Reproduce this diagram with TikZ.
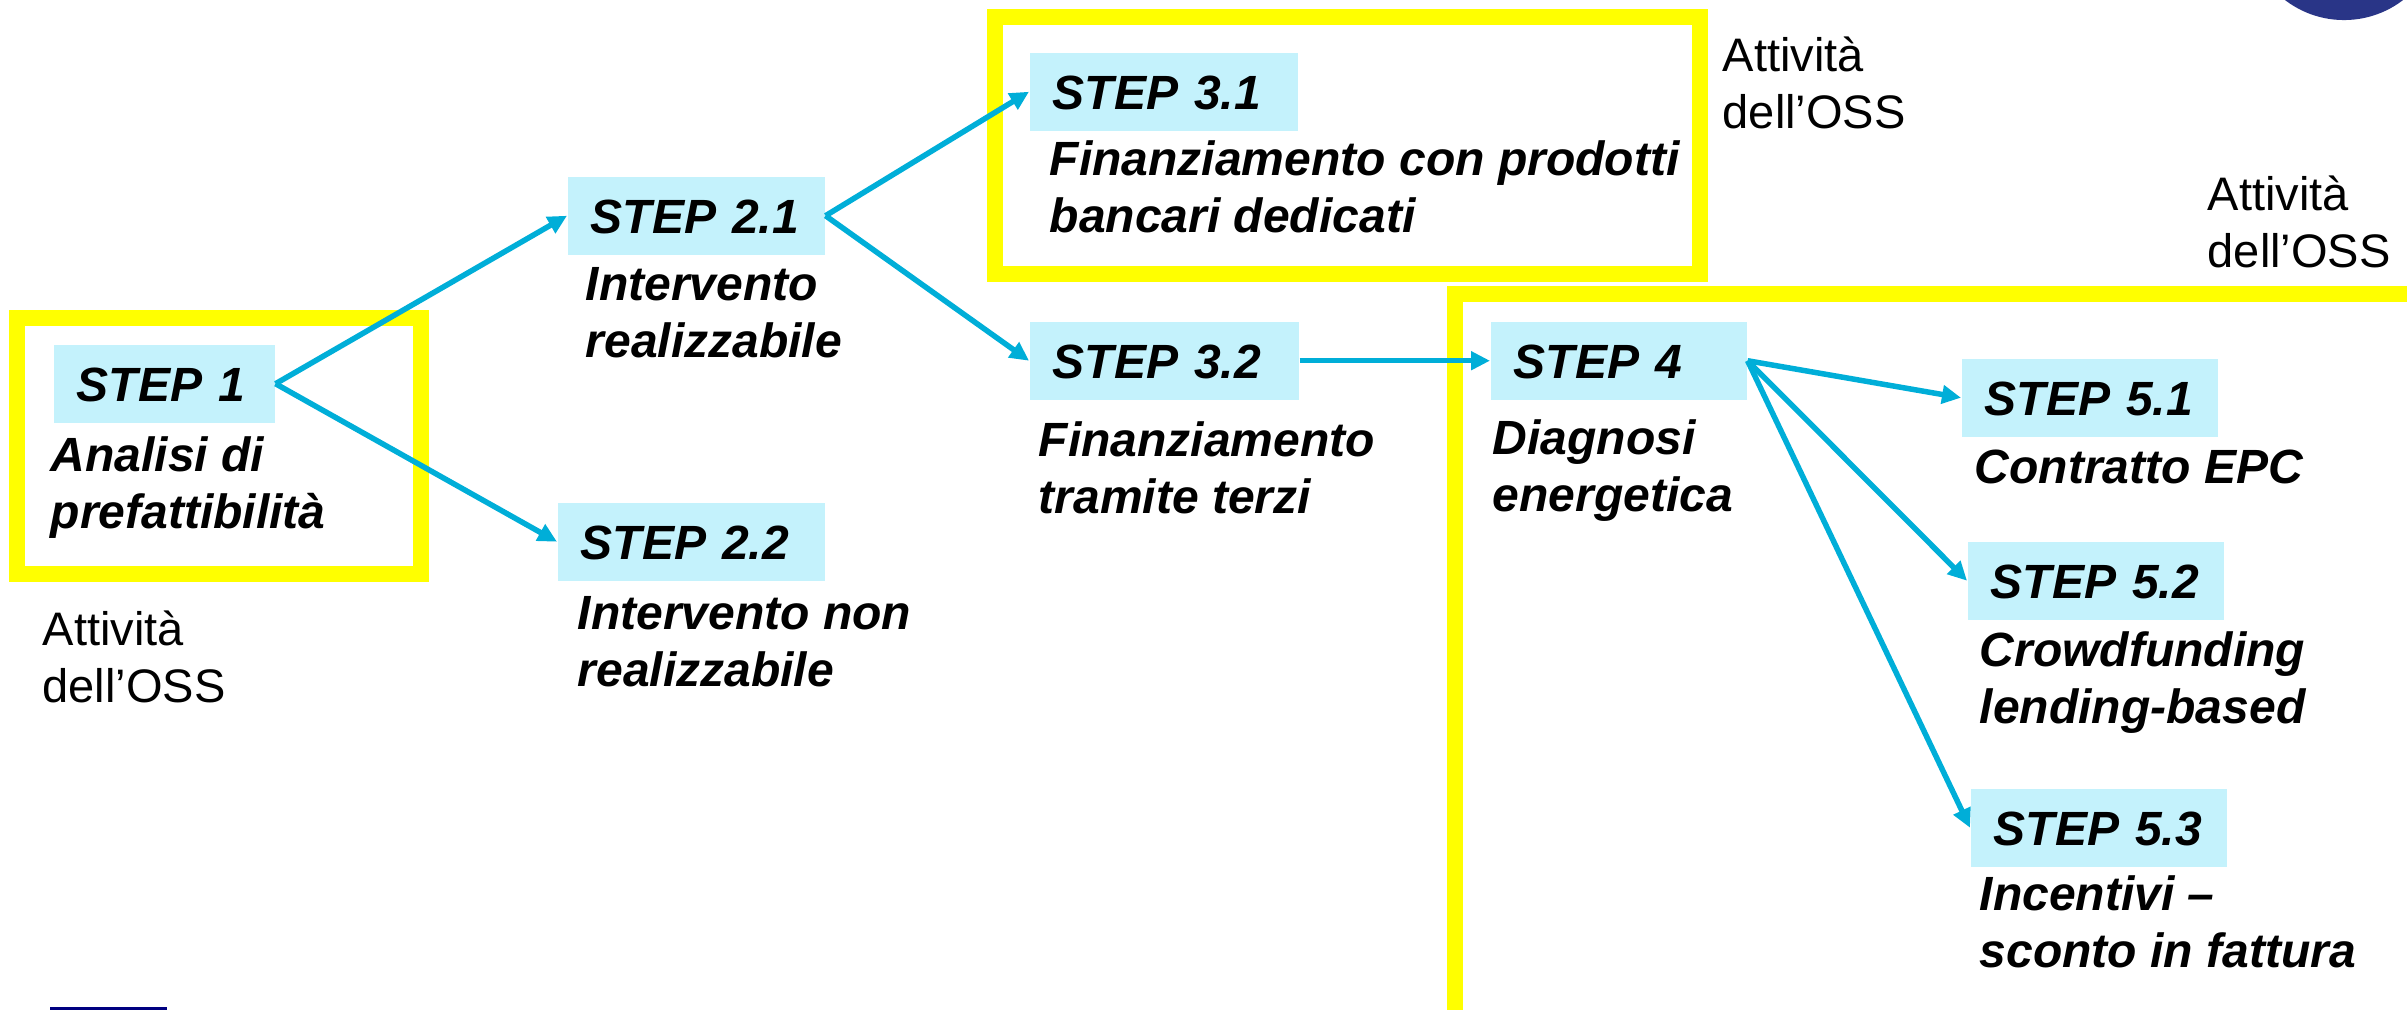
\documentclass[tikz,border=0pt]{standalone}
\usepackage{fontspec}
\setmainfont{Liberation Sans}
\usetikzlibrary{arrows.meta}
\definecolor{stepfill}{HTML}{C4F2FC}
\definecolor{arrcol}{HTML}{00AED8}
\definecolor{hiyellow}{HTML}{FFFF00}
\definecolor{navyc}{HTML}{293587}
\definecolor{darknavy}{HTML}{000080}
\begin{document}
\begin{tikzpicture}[x=0.01cm,y=-0.01cm,
 stepbox/.style={fill=stepfill, anchor=north west, inner xsep=0.23cm, inner ysep=0pt, minimum height=0.78cm, text width=#1, align=left, text height=0.35cm, text depth=0pt, font=\bfseries\itshape\fontsize{13.66pt}{16.2pt}\selectfont},
 desc/.style={anchor=base west, inner sep=0pt, align=left, font=\bfseries\itshape\fontsize{13.66pt}{16.2pt}\selectfont},
 note/.style={anchor=base west, inner sep=0pt, align=left, font=\fontsize{13.37pt}{15.93pt}\selectfont},
 frame/.style={draw=hiyellow, line width=0.16cm},
 arr/.style={draw=arrcol, line width=0.055cm, -{Triangle[length=0.19cm,width=0.18cm]}}
]
\useasboundingbox (0,0) rectangle (2407,1009);
\clip (0,0) rectangle (2407,1009);

% decorations
\fill[navyc] (2344,-77) circle[radius=0.97cm];
\fill[darknavy] (50,1007) rectangle (167,1012);

% yellow frames
\draw[frame] (17,318) rectangle (421,574);
\draw[frame] (995,17) rectangle (1700,274);
\draw[frame] (1455,293.5) rectangle (2440,1020);

% step boxes
\node[stepbox=1.75cm] (s1) at (53,344) {STEP 1};
\node[stepbox=2.11cm] (s21) at (567,176) {STEP 2.1};
\node[stepbox=2.21cm] (s22) at (557,502) {STEP 2.2};
\node[stepbox=2.22cm] (s31) at (1029,52) {STEP 3.1};
\node[stepbox=2.23cm] (s32) at (1029,321) {STEP 3.2};
\node[stepbox=2.10cm] (s4) at (1490,321) {STEP 4};
\node[stepbox=2.10cm] (s51) at (1961,358) {STEP 5.1};
\node[stepbox=2.10cm] (s52) at (1967,541) {STEP 5.2};
\node[stepbox=2.10cm] (s53) at (1970,788) {STEP 5.3};

% descriptions (anchored at the baseline of the last line)
\node[desc] (d1) at (50,528) {Analisi di\\prefattibilità};
\node[desc] (d21) at (585,357) {Intervento\\realizzabile};
\node[desc] (d22) at (577,686) {Intervento non\\realizzabile};
\node[desc] (d31) at (1049,232) {Finanziamento con prodotti\\bancari dedicati};
\node[desc] (d32) at (1038,513) {Finanziamento\\tramite terzi};
\node[desc] (d4) at (1492,511) {Diagnosi\\energetica};
\node[desc] (d51) at (1974,483) {Contratto EPC};
\node[desc] (d52) at (1979,723) {Crowdfunding\\lending-based};
\node[desc] (d53) at (1979,967) {Incentivi –\\sconto in fattura};

% notes
\node[note] (n1) at (42,702) {Attività\\dell’OSS};
\node[note] (n31) at (1722,128) {Attività\\dell’OSS};
\node[note] (n4) at (2207,267) {Attività\\dell’OSS};

% connectors
\draw[arr] (s1.east) -- (s21.west);
\draw[arr] (s1.east) -- (s22.west);
\draw[arr] (s21.east) -- (s31.west);
\draw[arr] (s21.east) -- (s32.west);
\draw[arr] (s32.east) -- (s4.west);
\draw[arr] (s4.east) -- (s51.west);
\draw[arr] (s4.east) -- (s52.west);
\draw[arr] (s4.east) -- (s53.west);
\end{tikzpicture}
\end{document}
